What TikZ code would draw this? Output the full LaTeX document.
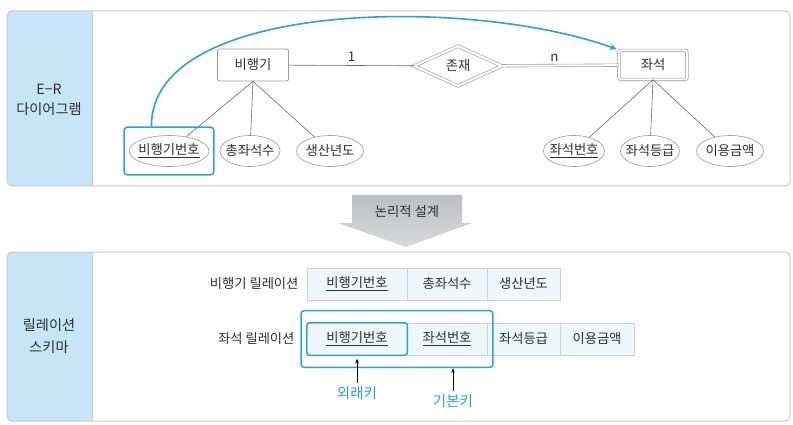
\documentclass[tikz,border=0pt]{standalone}
\usepackage{fontspec}
\setmainfont{Noto Sans CJK KR}
\usetikzlibrary{shapes.geometric,arrows.meta,calc,fit}
\definecolor{kblue}{HTML}{2AA4D8}
\definecolor{lblue}{HTML}{C6E5F6}
\definecolor{pgray}{HTML}{C9CBCD}
\definecolor{tgray}{HTML}{2E2E2E}
\definecolor{egray}{HTML}{9A9A9A}
\definecolor{lgray}{HTML}{6A6A6A}
\definecolor{cellfill}{HTML}{EEF7FC}
\definecolor{cellline}{HTML}{CDD1D4}
\definecolor{arrtop}{HTML}{BDBEC0}
\definecolor{arrbot}{HTML}{D9DADB}
\tikzset{
  base/.style={font=\fontsize{13.3}{15}\selectfont, text=tgray},
  lab/.style={font=\fontsize{14.2}{16}\selectfont, text=tgray},
  entity/.style={base, draw=egray, line width=0.7pt, fill=white, rounded corners=2pt, minimum width=71pt, minimum height=32pt},
  wentity/.style={base, draw=egray, line width=0.6pt, double=white, double distance=2pt, fill=white, rounded corners=2pt, minimum width=68pt, minimum height=29pt},
  relship/.style={base, diamond, draw=egray, line width=0.6pt, double=white, double distance=2.2pt, fill=white, minimum width=88pt, minimum height=40pt, inner sep=0pt},
  attr/.style={base, ellipse, draw=egray, line width=0.6pt, fill=white, inner xsep=-10pt, inner ysep=0pt, minimum height=31pt},
  ln/.style={lgray, line width=0.6pt},
  dln/.style={egray, line width=0.6pt, double=white, double distance=2pt},
  hlbox/.style={draw=kblue, line width=1.5pt, rounded corners=3pt},
  cell/.style={base, draw=cellline, line width=0.7pt, fill=cellfill, minimum height=32pt, inner sep=0pt},
  keylab/.style={font=\fontsize{14.5}{16}\selectfont, text=kblue},
  karrow/.style={black, line width=0.6pt, -{Stealth[length=5pt,width=3.5pt]}},
  panel/.style={pgray, line width=1pt, rounded corners=5pt}
}
\begin{document}
\begin{tikzpicture}[x=1pt,y=-1pt]
\useasboundingbox (0,0) rectangle (793,425);
% ---------- top panel ----------
\begin{scope}
\clip[rounded corners=5pt] (7,11) rectangle (790,186);
\fill[white] (7,11) rectangle (790,186);
\fill[lblue] (7,11) rectangle (92,186);
\end{scope}
\draw[panel] (7,11) rectangle (790,186);
\draw[pgray, line width=1pt] (92,11) -- (92,186);
\node[lab] (t1) at (49,89) {E−R};
\node[lab] (t2) at (49,109) {다이어그램};

\node[entity] (bi) at (253,65) {비행기};
\node[relship] (ex) at (458,66) {존재};
\node[wentity] (jw) at (653,65) {좌석};

\node[attr, minimum width=80pt] (a1) at (169,151) {\underline{비행기번호}};
\node[attr, minimum width=60pt] (a2) at (250,151) {총좌석수};
\node[attr, minimum width=67pt] (a3) at (330,151) {생산년도};
\node[attr, minimum width=61pt] (b1) at (574,151) {\underline{좌석번호}};
\node[attr, minimum width=59pt] (b2) at (650,151) {좌석등급};
\node[attr, minimum width=67pt] (b3) at (730,151) {이용금액};

\draw[ln] (bi.south) -- (a1);
\draw[ln] (bi.south) -- (a2);
\draw[ln] (bi.south) -- (a3);
\draw[ln] (jw.south) -- (b1);
\draw[ln] (jw.south) -- (b2);
\draw[ln] (jw.south) -- (b3);

\draw[ln] (bi) -- node[base, above=0pt] (one) {1} (ex);
\draw[dln] (ex) -- node[base, above=0pt, pos=0.45] (nn) {n} (jw);

\node[hlbox, fit=(a1), inner xsep=4.5pt, inner ysep=8pt] (hl) {};
\draw[kblue, line width=1.6pt, -{Stealth[length=7pt,width=6pt]}]
  ($(hl.north west)+(28,0)$) .. controls (150,0) and (470,-4) .. ($(jw.north west)+(-2,-1)$);

% ---------- arrow ----------
\shade[top color=arrtop, bottom color=arrbot]
  (352,195) -- (462,195) -- (462,223) -- (472,223) -- (406,247) -- (338,223) -- (352,223) -- cycle;
\node[base] (lg) at (407,212) {논리적 설계};

% ---------- bottom panel ----------
\begin{scope}
\clip[rounded corners=5pt] (7,252) rectangle (790,421);
\fill[white] (7,252) rectangle (790,421);
\fill[lblue] (7,252) rectangle (92,421);
\end{scope}
\draw[panel] (7,252) rectangle (790,421);
\draw[pgray, line width=1pt] (92,252) -- (92,421);
\node[lab] (s1) at (49,325) {릴레이션};
\node[lab] (s2) at (49,347) {스키마};

\node[base, anchor=east] (l1) at (302,284) {비행기 릴레이션};
\node[base, anchor=east] (l2) at (298,339) {좌석 릴레이션};

\node[cell, minimum width=100pt] (r1c1) at (357,284) {\underline{비행기번호}};
\node[cell, minimum width=80pt] (r1c2) at (447,284) {총좌석수};
\node[cell, minimum width=73pt] (r1c3) at (523.5,284) {생산년도};

\node[cell, minimum width=100pt] (r2c1) at (357,339) {\underline{비행기번호}};
\node[cell, minimum width=80pt] (r2c2) at (447,339) {\underline{좌석번호}};
\node[cell, minimum width=73pt] (r2c3) at (523.5,339) {좌석등급};
\node[cell, minimum width=74pt] (r2c4) at (597,339) {이용금액};

\node[hlbox, fit=(r2c1), inner sep=0pt] (fkbox) {};
\node[hlbox, fit=(r2c1)(r2c2), inner xsep=5.5pt, inner ysep=12pt] (pkbox) {};

\node[keylab] (fk) at (357,393) {외래키};
\node[keylab] (pk) at (453,401) {기본키};
\draw[karrow] (fk.north) -- ($(fkbox.south)+(0,2.5)$);
\draw[karrow] (pk.north) -- (pk.north |- pkbox.south);
\end{tikzpicture}
\end{document}
